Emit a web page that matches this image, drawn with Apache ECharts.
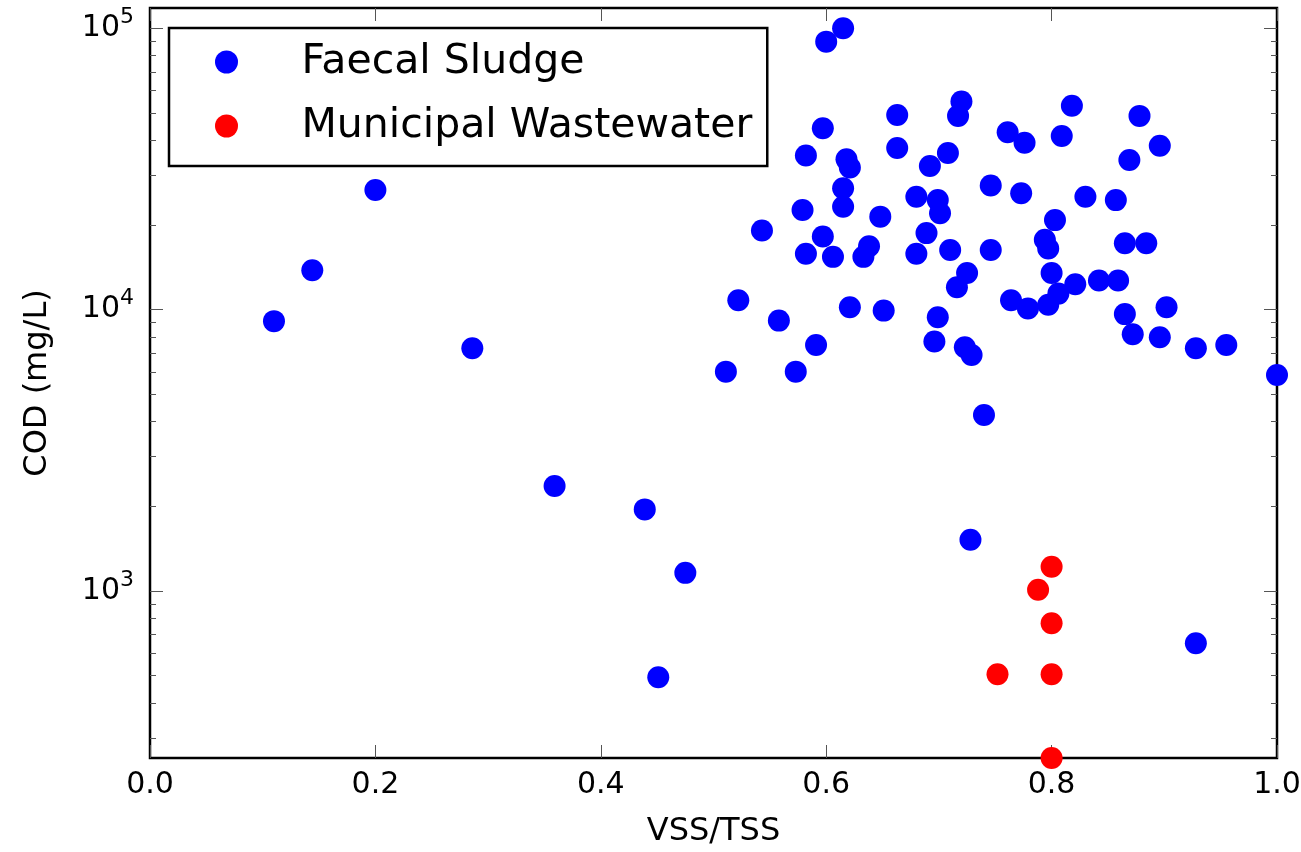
<!DOCTYPE html>
<html>
<head>
<meta charset="utf-8">
<script src="https://cdn.jsdelivr.net/npm/echarts@6/dist/echarts.min.js"></script>
<style>
    html, body { margin: 0; padding: 0; background: #fff; }
    #chart { width: 1301px; height: 852px; }
</style>
</head>
<body>
<div id="chart"></div>
<script>
// VSS/TSS ratio and COD (mg/L)
let faecalVss = [0.615, 0.600, 0.663, 0.597, 0.663, 0.582, 0.618, 0.621, 0.692, 0.708,
    0.720, 0.717, 0.818, 0.878, 0.761, 0.776, 0.809, 0.896, 0.869, 0.615,
    0.615, 0.579, 0.648, 0.680, 0.699, 0.701, 0.746, 0.773, 0.830, 0.857,
    0.803, 0.543, 0.597, 0.689, 0.582, 0.606, 0.638, 0.633, 0.680, 0.710,
    0.746, 0.794, 0.797, 0.865, 0.884, 0.725, 0.716, 0.800, 0.821, 0.842,
    0.859, 0.806, 0.797, 0.764, 0.779, 0.865, 0.902, 0.699, 0.696, 0.872,
    0.896, 0.928, 0.955, 0.723, 0.729, 1.000, 0.740, 0.522, 0.558, 0.591,
    0.621, 0.651, 0.511, 0.573, 0.200, 0.144, 0.110, 0.286, 0.359, 0.439,
    0.475, 0.728, 0.451, 0.928];
let faecalCod = [100000, 89600, 49200, 44100, 37500, 35300, 34200, 32000, 32400, 36000,
    54900, 48800, 53000, 48800, 42700, 39200, 41400, 38200, 34000, 27000,
    23200, 22600, 21400, 25200, 24500, 22000, 27600, 25900, 25200, 24500,
    20800, 19100, 18200, 18700, 15800, 15400, 16800, 15400, 15800, 16300,
    16300, 17700, 16500, 17200, 17200, 13500, 12000, 13500, 12300, 12700,
    12700, 11400, 10400, 10800, 10100, 9640, 10200, 9400, 7700, 8180,
    7970, 7290, 7490, 7350, 6900, 5860, 4220, 10800, 9140, 7490,
    10200, 9920, 6020, 6020, 26600, 13800, 9100, 7290, 2360, 1950,
    1160, 1520, 494, 652];
let municipalVss = [0.800, 0.788, 0.800, 0.752, 0.800, 0.800];
let municipalCod = [1220, 1010, 768, 506, 506, 255];

let seriesNames = ['Faecal Sludge', 'Municipal Wastewater'];
let xTicks = [0, 0.2, 0.4, 0.6, 0.8, 1.0];
let yMajor = [1000, 10000, 100000];
let yMinor = [300, 400, 500, 600, 700, 800, 900,
    2000, 3000, 4000, 5000, 6000, 7000, 8000, 9000,
    20000, 30000, 40000, 50000, 60000, 70000, 80000, 90000];

let font = 'DejaVu Sans';
let chart = echarts.init(document.getElementById('chart'), null, { renderer: 'canvas' });

function pairs(xs, ys) {
    return xs.map((v, i) => [v, ys[i]]);
}

function logAxis(position, values, len, withLabels) {
    let axis = {
        type: 'log',
        logBase: 10,
        position: position,
        min: 255,
        max: 118000,
        axisLine: { show: false },
        splitLine: { show: false },
        minorTick: { show: false },
        axisTick: {
            show: true,
            inside: true,
            length: len,
            customValues: values,
            lineStyle: { color: '#555', width: 1 }
        },
        axisLabel: { show: false }
    };
    if (withLabels) {
        axis.axisLabel = {
            show: true,
            margin: 16,
            customValues: values,
            formatter: function (v) {
                return '{b|10}{s|' + Math.round(Math.log10(v)) + '}';
            },
            rich: {
                b: { fontFamily: font, fontSize: 30, color: '#000', lineHeight: 44 },
                s: { fontFamily: font, fontSize: 22, color: '#000', lineHeight: 22, verticalAlign: 'top' }
            }
        };
        axis.name = 'COD (mg/L)';
        axis.nameLocation = 'middle';
        axis.nameGap = 96;
        axis.nameTextStyle = { fontFamily: font, fontSize: 32, color: '#000' };
    }
    return axis;
}

function linAxis(position, withLabels) {
    let axis = {
        type: 'value',
        position: position,
        min: xTicks[0],
        max: xTicks[xTicks.length - 1],
        interval: 0.2,
        axisLine: { show: false },
        splitLine: { show: false },
        axisTick: { show: true, inside: true, length: 13, lineStyle: { color: '#555', width: 1 } },
        axisLabel: { show: false }
    };
    if (withLabels) {
        axis.axisLabel = {
            show: true,
            margin: 12,
            fontFamily: font,
            fontSize: 30,
            color: '#000',
            formatter: v => v.toFixed(1)
        };
        axis.name = 'VSS/TSS';
        axis.nameLocation = 'middle';
        axis.nameGap = 58;
        axis.nameTextStyle = { fontFamily: font, fontSize: 32, color: '#000' };
    }
    return axis;
}

const option = {
    animation: false,
    backgroundColor: '#fff',
    grid: {
        left: 150,
        right: 24,
        top: 8,
        bottom: 94,
        show: true,
        borderColor: '#000',
        borderWidth: 2.5,
        backgroundColor: 'transparent',
        containLabel: false,
        outerBoundsMode: 'none'
    },
    legend: {
        orient: 'vertical',
        left: 169,
        top: 28,
        padding: [12, 15, 18, 46],
        itemWidth: 76,
        itemHeight: 23,
        itemGap: 20,
        icon: 'circle',
        borderColor: '#000',
        borderWidth: 2.5,
        borderRadius: 0,
        backgroundColor: '#fff',
        selectedMode: false,
        textStyle: { fontFamily: font, fontSize: 41, color: '#000', lineHeight: 44, padding: [0, 0, 0, 32] },
        data: seriesNames
    },
    xAxis: [linAxis('bottom', true), linAxis('top', false)],
    yAxis: [
        logAxis('left', yMajor, 13, true),
        logAxis('left', yMinor, 6, false),
        logAxis('right', yMajor, 13, false),
        logAxis('right', yMinor, 6, false)
    ],
    series: [
        {
            name: seriesNames[0],
            type: 'scatter',
            symbol: 'circle',
            symbolSize: 22,
            clip: true,
            itemStyle: { color: '#0000ff', opacity: 1 },
            emphasis: { disabled: true },
            data: pairs(faecalVss, faecalCod)
        },
        {
            name: seriesNames[1],
            type: 'scatter',
            symbol: 'circle',
            symbolSize: 22,
            clip: true,
            itemStyle: { color: '#ff0000', opacity: 1 },
            emphasis: { disabled: true },
            data: pairs(municipalVss, municipalCod)
        }
    ]
};
chart.setOption(option);
</script>
</body>
</html>
